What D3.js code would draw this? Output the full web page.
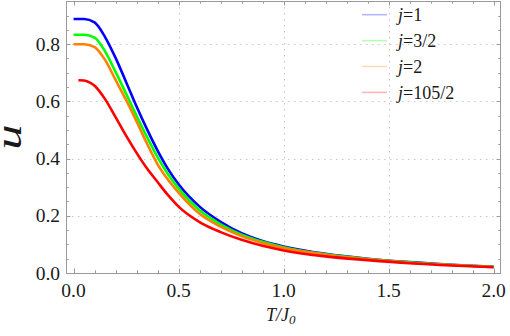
<!DOCTYPE html>
<html>
<head>
<meta charset="utf-8">
<script src="https://cdn.jsdelivr.net/npm/d3@7"></script>
<style>
  html, body { margin: 0; padding: 0; background: #fff; }
</style>
</head>
<body>
<div id="chart"></div>
<script>
// values
const temps = [0, 0.05, 0.1, 0.15, 0.2, 0.25, 0.3, 0.35, 0.4, 0.45, 0.5, 0.6, 0.7, 0.8, 0.9, 1.0, 1.2, 1.4, 1.6, 1.8, 2.0];
const uJ1 = [0.888, 0.888, 0.876, 0.825, 0.752, 0.668, 0.582, 0.502, 0.428, 0.363, 0.31, 0.232, 0.179, 0.139, 0.112, 0.093, 0.067, 0.05, 0.038, 0.029, 0.022];
const uJ3_2 = [0.833, 0.833, 0.823, 0.775, 0.703, 0.627, 0.55, 0.475, 0.405, 0.345, 0.295, 0.219, 0.17, 0.134, 0.109, 0.09, 0.065, 0.049, 0.037, 0.028, 0.022];
const uJ2 = [0.80, 0.80, 0.79, 0.745, 0.675, 0.605, 0.53, 0.452, 0.38, 0.326, 0.281, 0.207, 0.162, 0.129, 0.105, 0.087, 0.064, 0.048, 0.036, 0.028, 0.021];
// j=105/2 starts a bit later
const tempsBig = [0.023, 0.05, 0.08, 0.1, 0.15, 0.2, 0.25, 0.3, 0.35, 0.4, 0.45, 0.5, 0.6, 0.7, 0.8, 0.9, 1.0, 1.2, 1.4, 1.6, 1.8, 2.0];
const uJ105_2 = [0.674, 0.673, 0.665, 0.655, 0.608, 0.545, 0.48, 0.42, 0.365, 0.318, 0.272, 0.232, 0.178, 0.143, 0.116, 0.095, 0.079, 0.058, 0.045, 0.034, 0.026, 0.02];

const seriesNames = ['1', '3/2', '2', '105/2'];
const seriesColors = ['#0000ff', '#00ff00', '#ff8000', '#ff0000'];
const legendColors = ['#b3b3ff', '#b3ffb3', '#ffd9b3', '#ffb3b3'];

const xTicks = [0, 0.5, 1.0, 1.5, 2.0];
const yTicks = [0, 0.2, 0.4, 0.6, 0.8];

const series = [
  { name: seriesNames[0], t: temps, u: uJ1 },
  { name: seriesNames[1], t: temps, u: uJ3_2 },
  { name: seriesNames[2], t: temps, u: uJ2 },
  { name: seriesNames[3], t: tempsBig, u: uJ105_2 },
];

const width = 510, height = 336;
const frame = { left: 66, right: 501, top: 1, bottom: 273 };
const serif = '"Liberation Serif", "Times New Roman", Times, "DejaVu Serif", serif';

const svg = d3.select('#chart').append('svg')
  .attr('width', width)
  .attr('height', height)
  .attr('font-family', serif);

const x = d3.scaleLinear().domain([-0.036, 2.035]).range([frame.left, frame.right]);
const y = d3.scaleLinear().domain([0, 0.951]).range([frame.bottom, frame.top]);

// grid
const grid = svg.append('g').attr('class', 'grid')
  .attr('stroke', '#c8c8c8').attr('stroke-width', 1).attr('stroke-dasharray', '1.5,4.5');
grid.selectAll('line.gx').data(xTicks.filter(d => d > 0 && d < 2))
  .enter().append('line')
  .attr('x1', d => Math.round(x(d)) + 0.5).attr('x2', d => Math.round(x(d)) + 0.5)
  .attr('y1', frame.top).attr('y2', frame.bottom);
grid.selectAll('line.gy').data(yTicks.filter(d => d > 0))
  .enter().append('line')
  .attr('y1', d => Math.round(y(d)) + 0.5).attr('y2', d => Math.round(y(d)) + 0.5)
  .attr('x1', frame.left).attr('x2', frame.right);

// curves, red drawn last so it sits on top
const line = d3.line()
  .x(d => x(d[0]))
  .y(d => y(d[1]))
  .curve(d3.curveMonotoneX);

svg.append('g').attr('class', 'curves')
  .selectAll('path').data(series)
  .enter().append('path')
  .attr('d', s => line(s.t.map((t, i) => [t, s.u[i]])))
  .attr('fill', 'none')
  .attr('stroke', (s, i) => seriesColors[i])
  .attr('stroke-width', 2.6)
  .attr('stroke-linejoin', 'round');

// frame + ticks
const axisColor = '#9a9a9a';
svg.append('rect')
  .attr('x', frame.left + 0.5).attr('y', frame.top + 0.5)
  .attr('width', frame.right - frame.left - 1).attr('height', frame.bottom - frame.top)
  .attr('fill', 'none').attr('stroke', axisColor).attr('stroke-width', 1);

const xMinor = d3.range(0, 2.05, 0.1).map(d => +d.toFixed(2));
const yMinor = d3.range(0, 0.951, 0.05).map(d => +d.toFixed(2));
const isMajorX = d => xTicks.some(t => Math.abs(t - d) < 1e-6);
const isMajorY = d => yTicks.some(t => Math.abs(t - d) < 1e-6);

const ticks = svg.append('g').attr('stroke', axisColor).attr('stroke-width', 1);
xMinor.forEach(d => {
  const len = isMajorX(d) ? 4.5 : 2.7;
  const px = Math.round(x(d)) + 0.5;
  ticks.append('line').attr('x1', px).attr('x2', px).attr('y1', frame.bottom).attr('y2', frame.bottom - len);
  ticks.append('line').attr('x1', px).attr('x2', px).attr('y1', frame.top).attr('y2', frame.top + len);
});
yMinor.forEach(d => {
  const len = isMajorY(d) ? 4.5 : 2.7;
  const py = Math.round(y(d)) + 0.5;
  ticks.append('line').attr('y1', py).attr('y2', py).attr('x1', frame.left).attr('x2', frame.left + len);
  ticks.append('line').attr('y1', py).attr('y2', py).attr('x1', frame.right).attr('x2', frame.right - len);
});

// tick labels
svg.append('g').selectAll('text').data(xTicks)
  .enter().append('text')
  .attr('x', d => x(d))
  .attr('y', 297)
  .attr('text-anchor', 'middle')
  .attr('font-size', '19.5px')
  .attr('fill', '#1a1a1a')
  .text(d => d.toFixed(1));

svg.append('g').selectAll('text').data(yTicks)
  .enter().append('text')
  .attr('x', 60)
  .attr('y', d => y(d) + 6.5)
  .attr('text-anchor', 'end')
  .attr('font-size', '19.5px')
  .attr('fill', '#1a1a1a')
  .text(d => d.toFixed(1));

// axis titles
const xTitle = svg.append('text')
  .attr('x', 266).attr('y', 321)
  .attr('font-size', '18px')
  .attr('font-style', 'italic')
  .attr('fill', '#1a1a1a');
xTitle.append('tspan').text('T/J');
xTitle.append('tspan').attr('dy', 3).attr('font-size', '13px').text('0');

svg.append('text')
  .attr('transform', 'translate(21,137) rotate(-90) scale(1.45,1)')
  .attr('text-anchor', 'middle')
  .attr('font-size', '35px')
  .attr('font-style', 'italic')
  .attr('fill', '#1a1a1a')
  .text('u');

// legend
const legend = svg.append('g').attr('class', 'legend');
const legendItem = legend.selectAll('g').data(seriesNames)
  .enter().append('g')
  .attr('transform', (d, i) => `translate(362,${14.7 + i * 25.9})`);
legendItem.append('line')
  .attr('x1', 0).attr('x2', 25)
  .attr('stroke', (d, i) => legendColors[i])
  .attr('stroke-width', 1.5);
legendItem.append('text')
  .attr('x', 36).attr('y', 6.5)
  .attr('font-size', '18px')
  .attr('fill', '#1a1a1a')
  .each(function (d) {
    const t = d3.select(this);
    t.append('tspan').attr('font-style', 'italic').text('j');
    t.append('tspan').text('=' + d);
  });
</script>
</body>
</html>
